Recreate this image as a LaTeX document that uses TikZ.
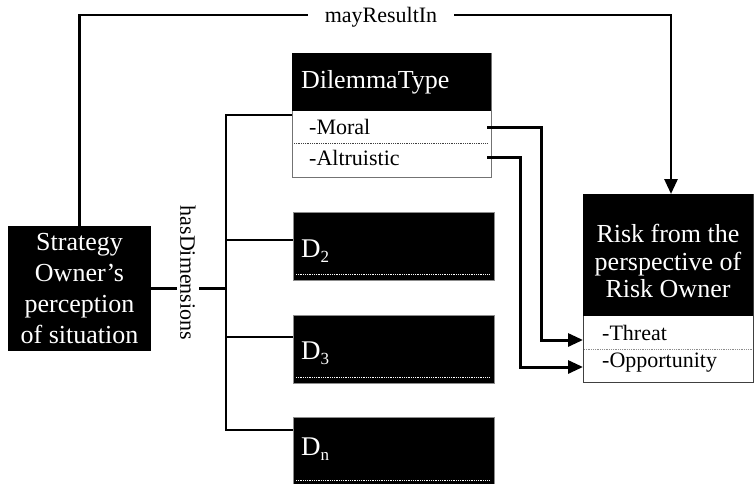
\documentclass[tikz,border=0pt]{standalone}
\usepackage{fontspec}
\setmainfont{Liberation Serif}
\usetikzlibrary{arrows.meta,calc}

\begin{document}
\begin{tikzpicture}[x=1pt,y=-1pt,
  blackbox/.style={fill=black, text=white, inner sep=0pt, outer sep=0pt},
  body/.style={draw=black!55, line width=0.8pt, fill=white, inner sep=0pt, outer sep=0pt, anchor=north west},
  bigtext/.style={font=\fontsize{26}{31}\selectfont},
  item/.style={font=\fontsize{22}{26}\selectfont, anchor=base west, inner sep=0pt},
  dimbox/.style={blackbox, draw=black!45, line width=0.6pt, minimum width=201pt, minimum height=68pt, anchor=north west},
  dimtext/.style={font=\fontsize{27}{32}\selectfont, text=white, anchor=base west, inner sep=0pt},
  link/.style={line width=2.8pt},
  branch/.style={line width=2.3pt},
  flow/.style={line width=3pt, -{Triangle[length=15pt,width=13pt]}},
  sep/.style={densely dotted, line width=0.8pt},
]
\useasboundingbox (0,0) rectangle (755,484);

% strategy owner
\node[blackbox, bigtext, align=center, minimum width=143pt, minimum height=125pt] (strat) at (79.5,288.5)
  {Strategy\\Owner’s\\perception\\of situation};

% dilemma type class
\node[body, minimum width=199pt, minimum height=124pt] (dil) at (292,53) {};
\node[blackbox, anchor=north west, minimum width=199pt, minimum height=58pt,
      bigtext, text width=181pt, align=left] (dilhead) at (292,53) {DilemmaType};
\draw[sep, black!75] (294,143) -- (487,143);
\node[item] (moral) at (309,135) {-Moral};
\node[item] (altr) at (309,165) {-Altruistic};

% further dimensions
\node[dimbox] (d2) at (293,212) {};
\node[dimbox] (d3) at (293,315) {};
\node[dimbox, minimum height=67pt] (dn) at (293,417) {};
\node[dimtext] (d2t) at (301,257) {D\raisebox{-5pt}{\fontsize{17}{20}\selectfont 2}};
\node[dimtext] (d3t) at (301,359) {D\raisebox{-5pt}{\fontsize{17}{20}\selectfont 3}};
\node[dimtext] (dnt) at (301,455) {D\raisebox{-5pt}{\fontsize{17}{20}\selectfont n}};
\draw[sep, white] (296,274) -- (490,274);
\draw[sep, white] (296,377) -- (490,377);
\draw[sep, white] (296,480) -- (490,480);

% risk class
\node[body, draw=black!75, minimum width=170pt, minimum height=188pt] (risk) at (583,194) {};
\node[blackbox, anchor=north west, minimum width=170pt, minimum height=122pt] (riskhead) at (583,194) {};
\node[font=\fontsize{26}{27.5}\selectfont, text=white, align=center, inner sep=0pt] (risktitle) at (668,261)
  {Risk from the\\perspective of\\Risk Owner};
\draw[sep, black!45] (584,349) -- (752,349);
\node[item] (threat) at (602,340) {-Threat};
\node[item] (opp) at (602,367) {-Opportunity};

% hasDimensions bus
\coordinate (b1) at (226,115);
\coordinate (b2) at (226,240);
\coordinate (b3) at (226,337);
\coordinate (b4) at (226,430);
\draw[link] (b1 -| dil.west) -- (b1) -- (b4) -- (b4 -| dn.west);
\draw[branch] (b2) -- (b2 -| d2.west);
\draw[branch] (b3) -- (b3 -| d3.west);
\draw[branch] (strat.east) -- (strat.east -| b1);
\node[font=\fontsize{22}{26}\selectfont, rotate=-90, fill=white, inner xsep=2pt, inner ysep=3pt] (hasdim) at (188,273) {hasDimensions};

% mayResultIn
\node[font=\fontsize{22}{26}\selectfont, inner xsep=17pt, inner ysep=0pt, text height=16pt, text depth=0pt] (may) at (381,15) {mayResultIn};
\draw[link] (strat.north) |- (may.west);
\draw[flow, line width=2.8pt] (may.east) -| ([xshift=3pt]risk.north);

% dilemma values to risk values
\draw[flow] ($(moral -| dil.east)+(-4,0)$) -- ++(54,0) |- (threat.base -| risk.west);
\draw[flow] ($(altr -| dil.east)+(-4,0)$) -- ++(33,0) |- (opp.base -| risk.west);
\end{tikzpicture}
\end{document}
